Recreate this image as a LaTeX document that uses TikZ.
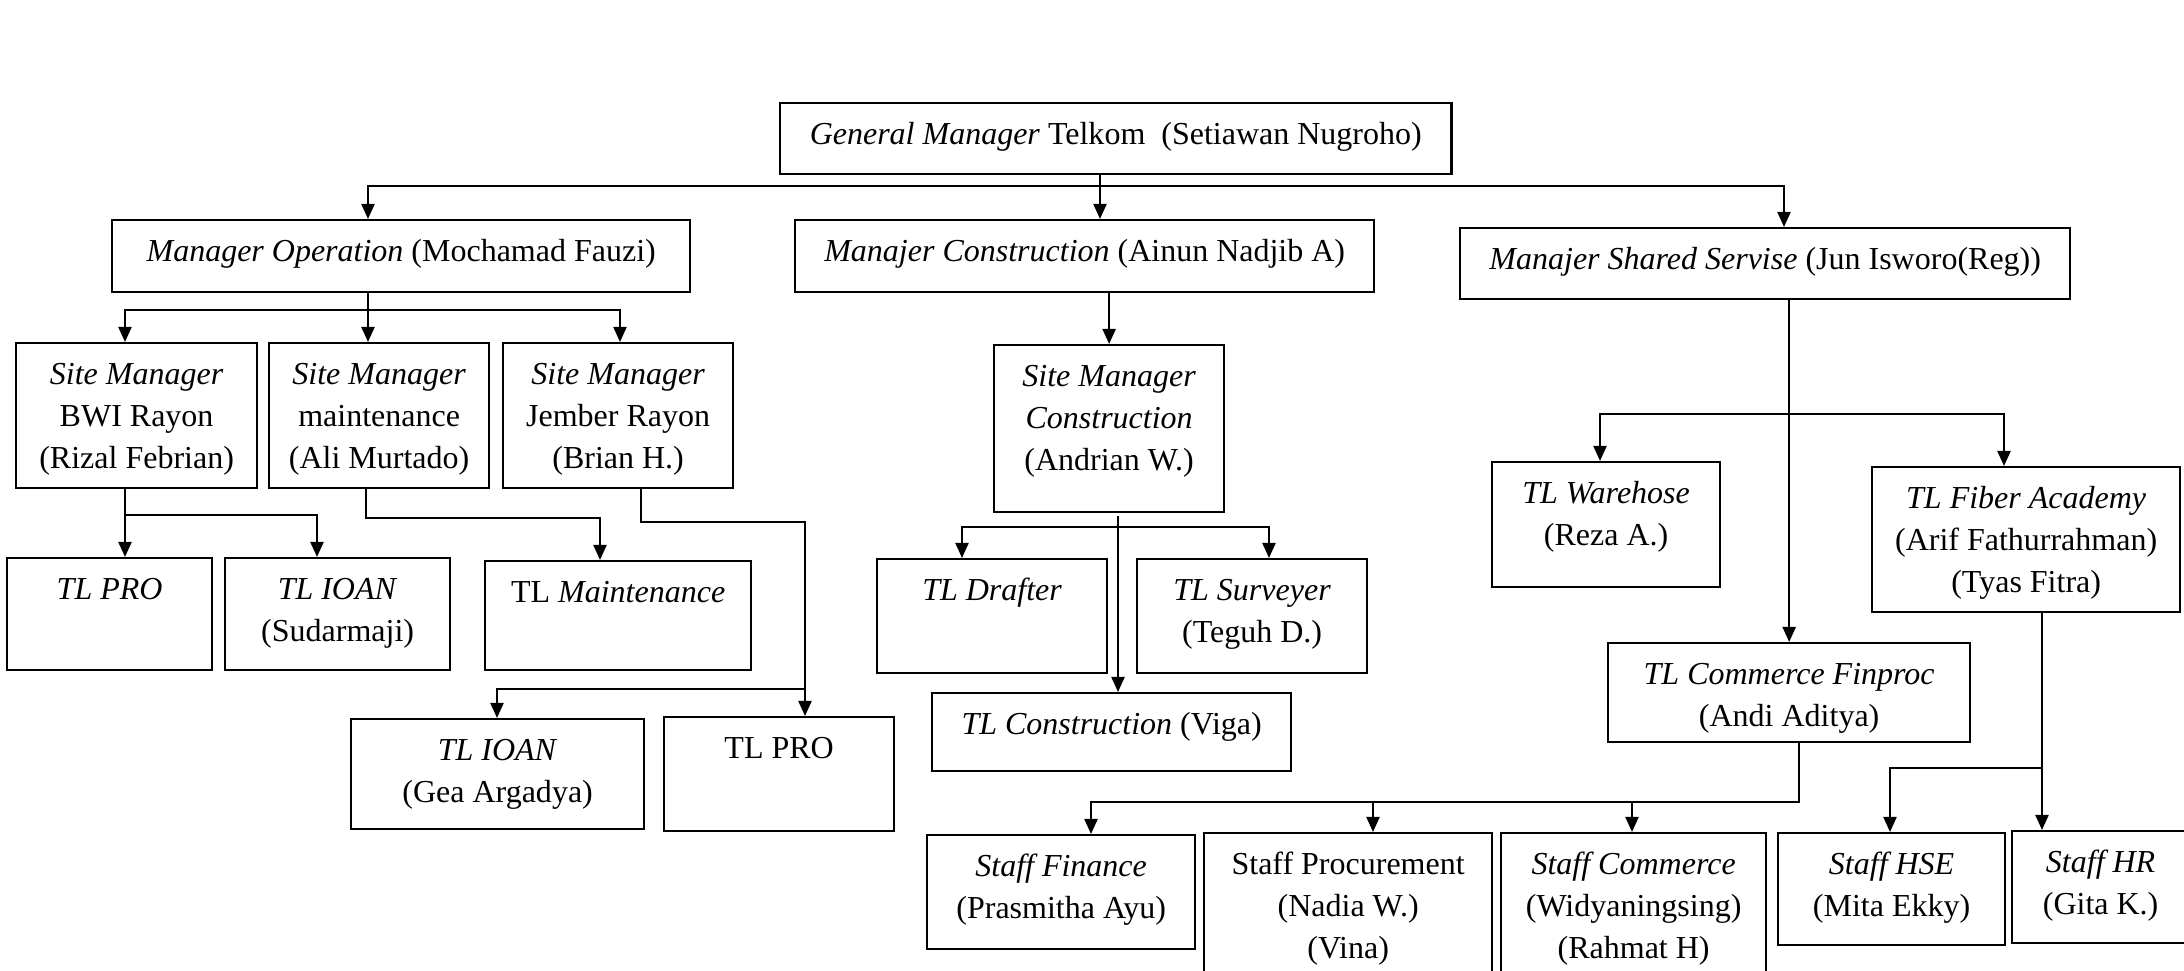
\documentclass[tikz,border=0pt]{standalone}
\usepackage{fontspec}
\setmainfont{Liberation Serif}
\usetikzlibrary{arrows.meta}
% box content: width (cm), height (cm), text set from the top
\newcommand{\isibox}[3]{\parbox[c][#2cm][t]{#1cm}{\centering\rule{0pt}{0.41cm}#3}}
\tikzset{jabatan/.style={draw, inner sep=0pt, anchor=north west}}
\begin{document}
\begin{tikzpicture}[x=0.01cm,y=-0.01cm,line width=0.6pt,font=\fontsize{9.1}{12}\selectfont,
  >={Triangle[length=0.15cm,width=0.13cm]}]
\useasboundingbox (0,0) rectangle (2184,971);
\clip (0,0) rectangle (2184,971);
% level 1 and 2
\node[jabatan] (gm) at (779,102) {\isibox{6.71}{0.71}{\textit{General Manager} Telkom~ (Setiawan Nugroho)}};
\node[jabatan] (mo) at (111,219) {\isibox{5.78}{0.72}{\textit{Manager Operation} (Mochamad Fauzi)}};
\node[jabatan] (mc) at (794,219) {\isibox{5.79}{0.72}{\textit{Manajer Construction} (Ainun Nadjib A)}};
\node[jabatan] (mss) at (1459,227) {\isibox{6.10}{0.71}{\textit{Manajer Shared Servise} (Jun Isworo(Reg))}};
% site managers
\node[jabatan] (smbwi) at (15,342) {\isibox{2.41}{1.45}{\textit{Site Manager}\\ BWI Rayon\\ (Rizal Febrian)}};
\node[jabatan] (smmnt) at (268,342) {\isibox{2.20}{1.45}{\textit{Site Manager}\\ maintenance\\ (Ali Murtado)}};
\node[jabatan] (smjbr) at (502,342) {\isibox{2.30}{1.45}{\textit{Site Manager}\\ Jember Rayon\\ (Brian H.)}};
\node[jabatan] (smcon) at (993,344) {\isibox{2.30}{1.67}{\textit{Site Manager}\\ \textit{Construction}\\ (Andrian W.)}};
% team leaders
\node[jabatan] (tlpro) at (6,557) {\isibox{2.05}{1.12}{\textit{TL PRO}}};
\node[jabatan] (tlioan) at (224,557) {\isibox{2.25}{1.12}{\textit{TL IOAN}\\ (Sudarmaji)}};
\node[jabatan] (tlmnt) at (484,560) {\isibox{2.66}{1.09}{TL \textit{Maintenance}}};
\node[jabatan] (tlioanb) at (350,718) {\isibox{2.93}{1.10}{\textit{TL IOAN}\\ (Gea Argadya)}};
\node[jabatan] (tlprob) at (663,716) {\isibox{2.30}{1.14}{TL PRO}};
\node[jabatan] (tldft) at (876,558) {\isibox{2.30}{1.14}{\textit{TL Drafter}}};
\node[jabatan] (tlsvy) at (1136,558) {\isibox{2.30}{1.14}{\textit{TL Surveyer}\\ (Teguh D.)}};
\node[jabatan] (tlcon) at (931,692) {\isibox{3.59}{0.78}{\textit{TL Construction} (Viga)}};
\node[jabatan] (tlwh) at (1491,461) {\isibox{2.28}{1.25}{\textit{TL Warehose}\\ (Reza A.)}};
\node[jabatan] (tlfbr) at (1871,466) {\isibox{3.08}{1.45}{\textit{TL Fiber Academy}\\ (Arif Fathurrahman)\\ (Tyas Fitra)}};
\node[jabatan] (tlcf) at (1607,642) {\isibox{3.62}{0.99}{\textit{TL Commerce Finproc}\\ (Andi Aditya)}};
% staff
\node[jabatan] (sfin) at (926,834) {\isibox{2.68}{1.14}{\textit{Staff Finance}\\ (Prasmitha Ayu)}};
\node[jabatan] (sproc) at (1203,832) {\isibox{2.88}{1.50}{Staff Procurement\\ (Nadia W.)\\ (Vina)}};
\node[jabatan] (scom) at (1500,832) {\isibox{2.65}{1.50}{\textit{Staff Commerce}\\ (Widyaningsing)\\ (Rahmat H)}};
\node[jabatan] (shse) at (1777,832) {\isibox{2.27}{1.12}{\textit{Staff HSE}\\ (Mita Ekky)}};
\node[jabatan] (shr) at (2011,830) {\isibox{1.77}{1.12}{\textit{Staff HR}\\ (Gita K.)}};
% general manager
\coordinate (bus0) at (1100,186);
\coordinate (d-mo) at (368,186);
\coordinate (d-mss) at (1784,186);
\draw[->] (gm.south -| bus0) -- (mc.north -| bus0);
\draw[<->] (mo.north -| d-mo) -- (d-mo) -- (d-mss) -- (mss.north -| d-mss);
% operation
\coordinate (b1) at (125,310);
\coordinate (b1r) at (620,310);
\draw[<->] (smbwi.north -| b1) -- (b1) -- (b1r) -- (smjbr.north -| b1r);
\draw[->] (mo.south -| d-mo) -- (smmnt.north -| d-mo);
\coordinate (b2) at (125,515);
\coordinate (b2r) at (317,515);
\draw[->] (smbwi.south -| b2) -- (tlpro.north -| b2);
\draw[->] (b2) -- (b2r) -- (tlioan.north -| b2r);
\coordinate (b3) at (366,518);
\coordinate (b3r) at (600,518);
\draw[->] (smmnt.south -| b3) -- (b3) -- (b3r) -- (tlmnt.north -| b3r);
\coordinate (b4) at (641,522);
\coordinate (b4r) at (805,522);
\coordinate (b5) at (805,689);
\coordinate (b5l) at (497,689);
\draw[->] (smjbr.south -| b4) -- (b4) -- (b4r) -- (tlprob.north -| b4r);
\draw[->] (b5) -- (b5l) -- (tlioanb.north -| b5l);
% construction
\draw[->] (mc.south -| smcon.north) -- (smcon.north);
\coordinate (c2) at (1118,516);
\draw[->] (c2) -- (tlcon.north -| c2);
\coordinate (c3) at (962,527);
\coordinate (c3r) at (1269,527);
\draw[<->] (tldft.north -| c3) -- (c3) -- (c3r) -- (tlsvy.north -| c3r);
% shared service
\draw[->] (mss.south -| tlcf.north) -- (tlcf.north);
\coordinate (s1) at (1600,414);
\coordinate (s1r) at (2004,414);
\draw[<->] (tlwh.north -| s1) -- (s1) -- (s1r) -- (tlfbr.north -| s1r);
\coordinate (f1) at (2042,768);
\coordinate (f1l) at (1890,768);
\draw[->] (tlfbr.south -| f1) -- (shr.north -| f1);
\draw[->] (f1) -- (f1l) -- (shse.north -| f1l);
\coordinate (k1) at (1799,802);
\coordinate (k1l) at (1091,802);
\coordinate (k2) at (1373,802);
\coordinate (k3) at (1632,802);
\draw[->] (tlcf.south -| k1) -- (k1) -- (k1l) -- (sfin.north -| k1l);
\draw[->] (k2) -- (sproc.north -| k2);
\draw[->] (k3) -- (scom.north -| k3);
\end{tikzpicture}
\end{document}
